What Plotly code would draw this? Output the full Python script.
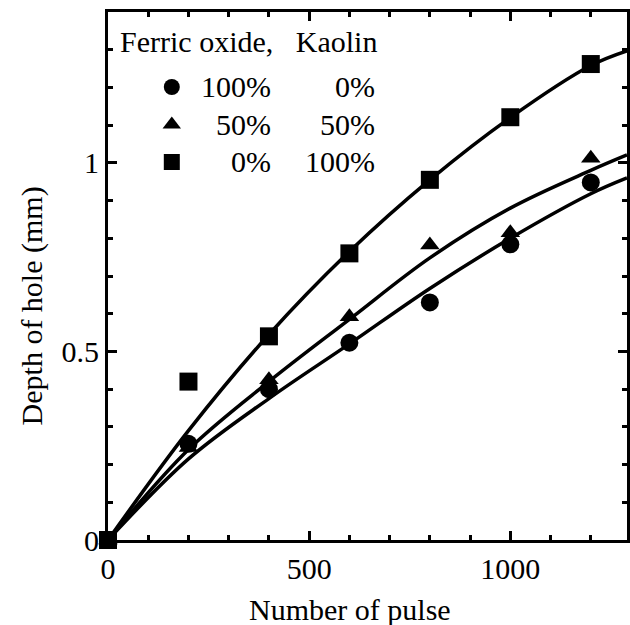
import plotly.graph_objects as go

# ---- data ----
pulses = [0, 200, 400, 600, 800, 1000, 1200]
depth_fe100 = [0, 0.255, 0.400, 0.523, 0.630, 0.784, 0.948]   # circles
depth_fe50 = [0, 0.245, 0.425, 0.592, 0.782, 0.815, 1.012]    # triangles
depth_fe0 = [0, 0.420, 0.540, 0.760, 0.955, 1.121, 1.262]     # squares

fit_x = [0, 200, 400, 600, 800, 1000, 1200, 1290]
fit_fe100 = [0, 0.215, 0.375, 0.520, 0.667, 0.800, 0.918, 0.960]
fit_fe50 = [0, 0.240, 0.420, 0.585, 0.748, 0.880, 0.980, 1.021]
fit_fe0 = [0, 0.290, 0.545, 0.765, 0.955, 1.120, 1.258, 1.297]

legend_header = ["Ferric oxide,", "Kaolin"]
ferric_pct = ["100%", "50%", "0%"]
kaolin_pct = ["0%", "50%", "100%"]
symbols = ["circle", "triangle-up", "square"]
marker_sizes = [18, 17, 18]

x_tickvals = [0, 500, 1000]
x_ticktext = ["0", "500", "1000"]
y_tickvals = [0, 0.5, 1]
y_ticktext = ["0", "0.5", "1"]

FONT = "Liberation Serif"

fig = go.Figure()

for fy in [fit_fe100, fit_fe50, fit_fe0]:
    fig.add_trace(go.Scatter(
        x=fit_x, y=fy, mode="lines",
        line=dict(color="black", width=3.5, shape="spline", smoothing=1.0),
        showlegend=False, hoverinfo="skip", cliponaxis=True))

for ys, sym, ms in zip([depth_fe100, depth_fe50, depth_fe0], symbols, marker_sizes):
    fig.add_trace(go.Scatter(
        x=pulses, y=ys, mode="markers",
        marker=dict(symbol=sym, size=ms, color="black", line=dict(width=0)),
        name="\u00a0", showlegend=True, cliponaxis=False))

axis_common = dict(
    showline=True, linecolor="black", linewidth=3, mirror="allticks",
    ticks="inside", ticklen=9, tickwidth=3, tickcolor="black",
    showgrid=False, zeroline=False,
    tickfont=dict(family=FONT, size=30, color="black"),
)

fig.update_xaxes(range=[0, 1290], tickmode="array", tickvals=x_tickvals, ticktext=x_ticktext,
                 minor=dict(ticks="inside", dtick=100, ticklen=5, tickwidth=3, tickcolor="black", showgrid=False),
                 **axis_common)
fig.update_yaxes(range=[0, 1.4], tickmode="array", tickvals=y_tickvals, ticktext=y_ticktext,
                 minor=dict(ticks="inside", dtick=0.1, ticklen=5, tickwidth=3, tickcolor="black", showgrid=False),
                 **axis_common)

L, T, W, H = 108, 12, 522, 528
def px(x):
    return (x - L) / W
def py(y):
    return (T + H - y) / H

annots = []
# axis titles
annots.append(dict(text="Number of pulse", x=px(351.5), y=py(609), xref="paper", yref="paper",
                   xanchor="center", yanchor="middle", showarrow=False,
                   font=dict(family=FONT, size=30, color="black")))
annots.append(dict(text="Depth of hole (mm)", x=px(32), y=py(306), xref="paper", yref="paper",
                   xanchor="center", yanchor="middle", textangle=-90, showarrow=False,
                   font=dict(family=FONT, size=30, color="black")))
# legend header
annots.append(dict(text=legend_header[0] + "\u00a0\u00a0\u00a0" + legend_header[1],
                   x=px(118), y=py(41), xref="paper", yref="paper",
                   xanchor="left", yanchor="middle", showarrow=False,
                   font=dict(family=FONT, size=30, color="black")))
row_y = [86, 124, 161]
for fe, ka, ry in zip(ferric_pct, kaolin_pct, row_y):
    annots.append(dict(text=fe, x=px(274), y=py(ry), xref="paper", yref="paper",
                       xanchor="right", yanchor="middle", showarrow=False,
                       font=dict(family=FONT, size=30, color="black")))
    annots.append(dict(text=ka, x=px(379), y=py(ry), xref="paper", yref="paper",
                       xanchor="right", yanchor="middle", showarrow=False,
                       font=dict(family=FONT, size=30, color="black")))

fig.update_layout(
    width=630, height=625,
    margin=dict(l=L, r=0, t=T, b=625 - T - H, pad=0),
    paper_bgcolor="white", plot_bgcolor="white",
    font=dict(family=FONT, size=30, color="black"),
    showlegend=True,
    legend=dict(x=px(142), y=py(63.3), xanchor="left", yanchor="top",
                bgcolor="rgba(0,0,0,0)", borderwidth=0, itemwidth=50,
                font=dict(family=FONT, size=26.5, color="black"),
                traceorder="normal", tracegroupgap=0),
    annotations=annots,
)

fig.write_html("out.html")
